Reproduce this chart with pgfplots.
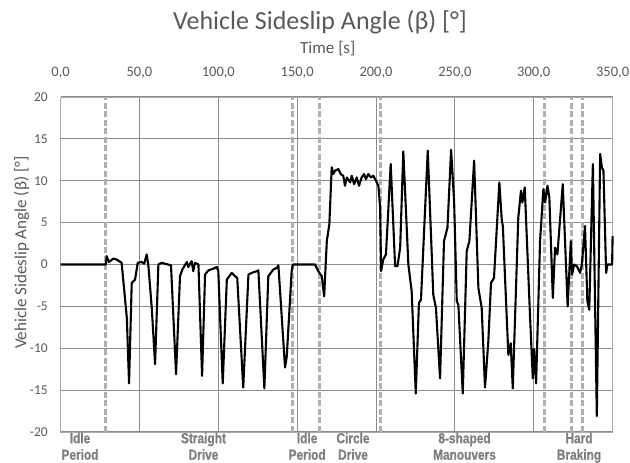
\documentclass[border=0pt]{standalone}
\usepackage{pgfplots}
\pgfplotsset{compat=1.18}
\usepackage{pgfplotstable}
\usepackage{fontspec}
\setmainfont{Carlito}
\newfontfamily\catfont[FakeStretch=0.82,FakeBold=0.8]{Liberation Sans Bold}
\definecolor{txt}{HTML}{595959}
\definecolor{grd}{HTML}{8C8C8C}
\definecolor{dsh}{HTML}{B0B0B0}
\definecolor{cat}{HTML}{7F7F7F}

\pgfplotstableread{
t beta
0 0
28.7 0
29.2 1.0
30.7 0.3
33.4 0.7
35.5 0.6
38.7 0.2
42.0 -6.4
43.4 -14.2
45.1 -2.2
47.2 -1.8
48.9 0.2
51.4 0.3
53.0 0.1
54.6 1.2
55.7 -0.2
57.8 -5.2
59.9 -11.9
62.0 0
64.1 0.2
70.0 -0.1
73.2 -13.1
75.7 -1.4
77.2 -0.6
80.0 0.3
81.0 -0.3
83.1 0.4
84.1 -0.8
85.2 0.2
87.4 0
89.7 -13.3
91.6 -1.2
93.7 -0.7
96.8 -0.5
99.0 -0.3
100.0 -0.8
102.8 -14.2
105.4 -1.8
108.5 -1.0
110.6 -1.4
112.0 -1.6
115.8 -14.7
119.1 -1.2
121.2 -1.0
124.4 -0.8
125.4 -0.7
129.2 -14.8
131.7 -1.4
134.9 -0.6
137.1 -0.4
138.1 -0.1
142.3 -12.3
143.4 -11.0
146.5 -0.8
147.3 0
161.3 0
163.4 -0.8
165.6 -1.4
167.1 -3.8
168.8 2.8
170.4 4.8
171.9 11.6
172.9 10.8
174.0 11.2
176.1 11.4
177.6 10.8
179.2 10.6
180.3 9.4
181.5 10.4
183.6 9.8
184.6 10.6
186.1 9.6
187.8 10.4
189.2 9.4
190.9 10.4
192.4 10.8
193.6 10.2
195.1 10.8
196.7 10.4
198.3 10.6
200.5 9.8
201.5 9.4
202.6 6.8
203.2 -0.8
204.6 0.6
206.3 1.2
209.3 12.0
212.1 -0.2
213.6 -0.2
215.3 2.0
217.3 13.5
220.5 0
222.6 -3.2
225.2 -15.4
227.2 -4.6
228.5 -4.2
232.8 13.6
236.3 -3.6
238.0 -5.2
240.6 -13.6
243.1 2.8
245.3 4.4
247.6 13.7
249.5 7.6
251.2 -4.4
252.2 -4.8
255.0 -15.4
257.5 1.6
259.2 2.8
262.2 12.4
264.9 -2.8
267.0 -5.2
269.1 -14.7
271.2 -9.2
272.9 -2.2
274.8 -1.6
278.2 9.8
279.7 5.4
280.4 4.6
283.9 -10.8
285.4 -9.4
286.7 -14.8
290.2 5.6
291.9 8.8
292.8 7.4
294.3 9.2
297.7 -6.4
299.4 -13.6
300.2 -10.1
301.5 -14.2
304.0 2.8
306.1 9.0
307.2 7.4
308.7 9.4
309.9 8.0
312.1 -4.0
313.5 2.0
315.0 1.2
318.4 9.6
321.5 -5.0
323.5 2.8
324.3 -1.2
325.6 0
327.3 -0.2
329.4 -1.0
330.5 0
332.5 4.6
334.0 -4.4
335.2 -5.4
337.5 12.0
340.0 -18.1
342.1 13.2
343.2 11.6
344.2 11.2
345.9 -1.0
346.7 0
349.7 0
350.0 3.4
}\sideslip

\begin{document}
\begin{tikzpicture}[x=1pt,y=1pt]
\useasboundingbox (0,0) rectangle (630,463);
\begin{axis}[
  at={(60.6pt,31pt)}, anchor=south west,
  scale only axis, width=552pt, height=335pt,
  xmin=0, xmax=350, ymin=-20, ymax=20,
  xtick={0,50,...,350}, ytick={-20,-15,...,20},
  xticklabel pos=upper,
  major tick length=0pt,
  grid=major,
  grid style={grd, line width=1pt},
  axis line style={grd!75, line width=0.9pt},
  /pgf/number format/assume math mode=true,
  xticklabel={\pgfmathprintnumber[fixed,fixed zerofill,precision=1,use comma]{\tick}},
  yticklabel={\pgfmathprintnumber[fixed,precision=0]{\tick}},
  xticklabel style={font=\fontsize{14.5}{17}\selectfont, text=txt, anchor=center, yshift=24pt},
  yticklabel style={font=\fontsize{13.5}{16}\selectfont, text=txt, anchor=east, inner sep=0pt, xshift=-12.6pt},
  title={Vehicle Sideslip Angle (β) [°]},
  title style={at={(axis description cs:0.47,1)}, anchor=center, yshift=69pt, font=\fontsize{26}{30}\selectfont, text=txt},
  xlabel={Time [s]},
  xlabel style={at={(axis description cs:0.484,1)}, anchor=center, yshift=48pt, font=\fontsize{17}{20}\selectfont, text=txt},
  ylabel={Vehicle Sideslip Angle (β) [°]},
  ylabel style={at={(axis description cs:-0.0705,0.535)}, anchor=center, font=\fontsize{17}{20}\selectfont, text=txt},
  clip=false,
]
\pgfplotsinvokeforeach{28.7,147.2,163.9,203.1,307,324,331}{
  \addplot[dsh, line width=3pt, dash pattern=on 6pt off 2.5pt, forget plot] coordinates {(#1,-20) (#1,20)};
}
\addplot[black, line width=2.1pt, line join=round] table[x=t, y=beta] {\sideslip};
\tikzset{catlab/.style={anchor=north, align=center, inner sep=0pt, yshift=-0.5pt, text=cat, font=\catfont\fontsize{14.5}{16.5}\selectfont}}
\node[catlab] at (axis cs:12.3,-20) {Idle\\Period};
\node[catlab] at (axis cs:90.6,-20) {Straight\\Drive};
\node[catlab] at (axis cs:156.3,-20) {Idle\\Period};
\node[catlab] at (axis cs:185.4,-20) {Circle\\Drive};
\node[catlab] at (axis cs:256.1,-20) {8-shaped\\Manouvers};
\node[catlab] at (axis cs:328.7,-20) {Hard\\Braking};
\end{axis}
\end{tikzpicture}
\end{document}
